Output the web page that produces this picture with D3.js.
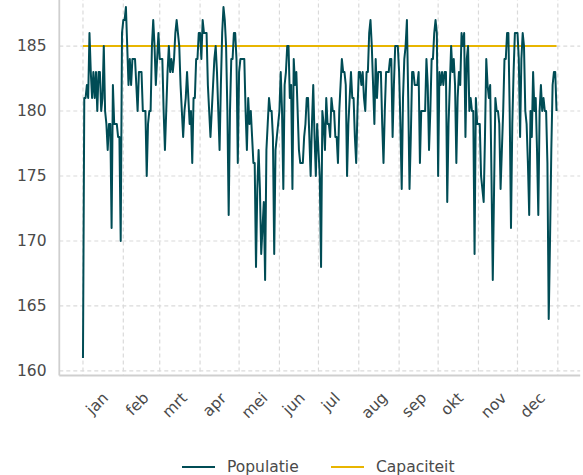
<!DOCTYPE html>
<html>
<head>
<meta charset="utf-8">
<script src="https://cdn.jsdelivr.net/npm/d3@7"></script>
<style>
  body { margin: 0; background: #fff; }
  #T { width: 583px; height: 475px; }
  text { font-family: "DejaVu Sans", sans-serif; }
</style>
</head>
<body>
<div id="T"></div>
<script>
// daily population, 1 jan .. 31 dec
const population = [
  161,181,181,182,181,186,183,181,183,181,
  183,180,183,183,180,181,185,180,179,177,
  179,179,171,182,179,179,179,178,178,170,
  186,187,187,188,185,182,184,182,184,184,
  184,182,180,183,183,183,180,180,180,175,
  179,180,180,185,187,185,182,184,186,184,
  184,184,180,177,180,183,185,183,184,183,
  184,186,187,186,185,182,180,178,180,181,
  183,181,179,180,176,181,181,184,184,186,
  186,184,187,186,186,186,182,180,178,180,
  182,184,185,183,180,177,182,186,188,187,
  185,180,172,180,184,184,186,186,184,176,
  183,184,184,184,184,180,177,181,179,180,
  178,176,176,168,174,177,174,169,171,173,
  167,177,179,181,180,180,178,169,177,178,
  179,180,183,180,174,182,183,185,185,181,
  182,174,184,182,183,180,177,176,176,176,
  178,179,181,181,178,175,179,182,178,175,
  179,177,175,168,180,179,177,181,179,179,
  178,181,180,180,178,178,176,180,182,184,
  183,183,182,175,179,181,183,181,181,178,
  176,180,183,183,182,183,181,180,183,183,
  186,187,185,182,179,184,181,183,183,183,
  179,176,180,183,183,183,184,184,178,182,
  185,185,185,183,179,174,181,184,185,187,
  181,174,178,183,183,182,182,182,183,176,
  180,180,180,180,184,182,177,180,184,184,
  186,187,186,175,183,182,183,182,183,183,
  173,179,182,185,183,184,182,176,181,183,
  182,186,185,186,178,184,185,180,181,180,
  180,169,181,179,179,179,175,174,173,178,
  184,182,181,182,175,167,174,181,180,180,
  179,174,177,180,184,184,186,186,180,171,
  179,183,186,186,186,184,178,184,186,185,
  180,179,176,172,180,178,183,180,181,177,
  172,180,182,180,181,180,180,176,164,170,
  177,182,183,183,180
];
const capacity = 185;
const monthLabels = ["jan","feb","mrt","apr","mei","jun","jul","aug","sep","okt","nov","dec"];
const yTicks = [160, 165, 170, 175, 180, 185];
const legendNames = ["Populatie", "Capaciteit"];

const dates = d3.timeDay.range(new Date(2023, 0, 1), new Date(2024, 0, 1));
console.log("points", population.length, dates.length);

const width = 583, height = 475;
const pad = 18.2 * 864e5;
const x = d3.scaleTime()
    .domain([+dates[0] - pad, +dates[dates.length - 1] + pad])
    .range([59.3, 580.2]);
const y = d3.scaleLinear()
    .domain([159.65, 189.35])
    .range([375.5, -10.5]);

const SVG = d3.select('#T').append('svg')
    .attr("width", width)
    .attr("height", height);

const gridColor = "#dadada";
const months = d3.timeMonth.range(new Date(2023, 0, 1), new Date(2024, 0, 2));

// grid
SVG.append("g").selectAll("line").data(yTicks).join("line")
    .attr("x1", x.range()[0]).attr("x2", x.range()[1])
    .attr("y1", d => y(d)).attr("y2", d => y(d))
    .attr("stroke", gridColor).attr("stroke-width", 1.2)
    .attr("stroke-dasharray", "4,3");
SVG.append("g").selectAll("line").data(months).join("line")
    .attr("x1", d => x(d)).attr("x2", d => x(d))
    .attr("y1", y.range()[1]).attr("y2", y.range()[0])
    .attr("stroke", gridColor).attr("stroke-width", 1.2)
    .attr("stroke-dasharray", "4,3");

// spines
SVG.append("line")
    .attr("x1", x.range()[0]).attr("x2", x.range()[0])
    .attr("y1", 0).attr("y2", y.range()[0])
    .attr("stroke", "#cfcfcf").attr("stroke-width", 1.8);
SVG.append("line")
    .attr("x1", x.range()[0]).attr("x2", x.range()[1])
    .attr("y1", y.range()[0]).attr("y2", y.range()[0])
    .attr("stroke", "#cfcfcf").attr("stroke-width", 1.8);

// y tick labels
SVG.append("g").selectAll("text").data(yTicks).join("text")
    .attr("x", 46.5).attr("y", d => y(d))
    .attr("text-anchor", "end")
    .attr("dominant-baseline", "central")
    .attr("fill", "#4a4a4a")
    .style("font-size", "15.5px")
    .text(d => d);

// x labels, rotated, box left on month start and top under the axis
months.slice(0, 12).forEach((m, i) => {
    const t = SVG.append("text")
        .attr("fill", "#4a4a4a")
        .style("font-size", "15.5px")
        .attr("transform", "rotate(-45)")
        .text(monthLabels[i]);
    const b = t.node().getBoundingClientRect();
    const dx = x(m) - 1 - b.left, dy = 389 - b.top;
    t.attr("transform", `translate(${dx},${dy}) rotate(-45)`);
});

// capacity line
const line = d3.line().x((d, i) => x(dates[i])).y(d => y(d));
SVG.append("path")
    .datum(dates.map(() => capacity))
    .attr("d", line)
    .attr("fill", "none")
    .attr("stroke", "#e8b500")
    .attr("stroke-width", 2);

// population line
SVG.append("path")
    .datum(population)
    .attr("d", line)
    .attr("fill", "none")
    .attr("stroke", "#004c55")
    .attr("stroke-width", 2)
    .attr("stroke-linejoin", "round");

// legend
const legendColors = ["#004c55", "#e8b500"];
const legendX = [182, 331];
legendNames.forEach((name, i) => {
    SVG.append("line")
        .attr("x1", legendX[i]).attr("x2", legendX[i] + 33)
        .attr("y1", 467).attr("y2", 467)
        .attr("stroke", legendColors[i]).attr("stroke-width", 2);
    SVG.append("text")
        .attr("x", legendX[i] + 45).attr("y", 467)
        .attr("dominant-baseline", "central")
        .attr("fill", "#4a4a4a")
        .style("font-size", "15.5px")
        .text(name);
});
</script>
</body>
</html>
